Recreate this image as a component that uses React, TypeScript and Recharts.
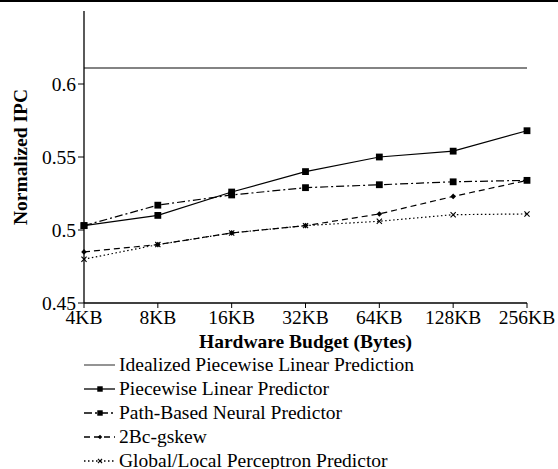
import { LineChart, Line, XAxis, YAxis, Legend } from "recharts";

const budgets = ["4KB", "8KB", "16KB", "32KB", "64KB", "128KB", "256KB"];
const idealized = [0.611, 0.611, 0.611, 0.611, 0.611, 0.611, 0.611];
const piecewiseLinear = [0.503, 0.51, 0.526, 0.54, 0.55, 0.554, 0.568];
const pathBasedNeural = [0.503, 0.517, 0.524, 0.529, 0.531, 0.533, 0.534];
const gskew = [0.485, 0.49, 0.498, 0.503, 0.511, 0.523, 0.534];
const perceptron = [0.48, 0.49, 0.498, 0.503, 0.506, 0.5105, 0.511];
const yTicks = [0.45, 0.5, 0.55, 0.6];

const FONT = "'Liberation Serif', 'Times New Roman', serif";

type MarkerKind = "none" | "square" | "diamond" | "cross";

const series: { key: string; name: string; color: string; dash?: string; marker: MarkerKind }[] = [
  { key: "idealized", name: "Idealized Piecewise Linear Prediction", color: "#5a5a5a", marker: "none" },
  { key: "piecewise", name: "Piecewise Linear Predictor", color: "#000", marker: "square" },
  { key: "pathBased", name: "Path-Based Neural Predictor", color: "#000", dash: "8 3 2 3", marker: "square" },
  { key: "gskew", name: "2Bc-gskew", color: "#000", dash: "6 4", marker: "diamond" },
  { key: "perceptron", name: "Global/Local Perceptron Predictor", color: "#000", dash: "1.5 2.5", marker: "cross" },
];

const data = budgets.map((budget, i) => ({
  budget,
  idealized: idealized[i],
  piecewise: piecewiseLinear[i],
  pathBased: pathBasedNeural[i],
  gskew: gskew[i],
  perceptron: perceptron[i],
}));

function Marker({ cx, cy, kind, size = 1 }: { cx: number; cy: number; kind: MarkerKind; size?: number }) {
  if (kind === "square") {
    const s = 3.4 * size;
    return <rect x={cx - s} y={cy - s} width={s * 2} height={s * 2} fill="#000" />;
  }
  if (kind === "diamond") {
    const s = 2.8 * size;
    return <path d={`M${cx},${cy - s}L${cx + s},${cy}L${cx},${cy + s}L${cx - s},${cy}Z`} fill="#000" />;
  }
  if (kind === "cross") {
    const s = 2.6 * size;
    return (
      <path
        d={`M${cx - s},${cy - s}L${cx + s},${cy + s}M${cx - s},${cy + s}L${cx + s},${cy - s}`}
        stroke="#000"
        strokeWidth={1.1}
      />
    );
  }
  return <g />;
}

function ChartLegend() {
  return (
    <div style={{ fontFamily: FONT, fontSize: 19.5, color: "#000" }}>
      {series.map((s) => (
        <div key={s.key} style={{ display: "flex", alignItems: "center", height: 24 }}>
          <svg width={35} height={24} style={{ display: "block" }}>
            <line x1={0} y1={12} x2={31} y2={12} stroke={s.color} strokeWidth={1.3} strokeDasharray={s.dash} />
            <Marker cx={16} cy={12} kind={s.marker} size={0.8} />
          </svg>
          <span style={{ lineHeight: "16px", whiteSpace: "nowrap" }}>{s.name}</span>
        </div>
      ))}
    </div>
  );
}

export default function App() {
  return (
    <div style={{ position: "absolute", left: 0, top: 0, width: 558, height: 469, background: "#fff" }}>
      <div style={{ position: "absolute", left: 0, top: 0, width: 558, height: 2, background: "#000" }} />
      <LineChart
        width={558}
        height={469}
        data={data}
        margin={{ top: 11, right: 31, left: 0, bottom: 116 }}
        style={{ fontFamily: FONT }}
      >
        <XAxis
          dataKey="budget"
          interval={0}
          tickSize={5}
          height={50}
          axisLine={{ stroke: "#000", strokeWidth: 1.3 }}
          tickLine={{ stroke: "#000" }}
          tick={{ fontSize: 19.5, fill: "#000", fontFamily: FONT }}
          label={{
            value: "Hardware Budget (Bytes)",
            position: "insideTop",
            offset: 31,
            style: { fontSize: 19.5, fontWeight: "bold", fill: "#000", fontFamily: FONT },
          }}
        />
        <YAxis
          type="number"
          domain={[0.45, 0.65]}
          ticks={yTicks}
          allowDataOverflow
          width={84}
          tickSize={6}
          axisLine={{ stroke: "#000", strokeWidth: 1.3 }}
          tickLine={{ stroke: "#000" }}
          tick={{ fontSize: 19.5, fill: "#000", fontFamily: FONT }}
          tickFormatter={(v: number) => String(v)}
          label={{
            value: "Normalized IPC",
            angle: -90,
            position: "insideLeft",
            offset: 20,
            style: { textAnchor: "middle", fontSize: 19.5, fontWeight: "bold", fill: "#000", fontFamily: FONT },
          }}
        />
        <Legend
          layout="vertical"
          align="center"
          verticalAlign="middle"
          content={() => <ChartLegend />}
          wrapperStyle={{ left: 84, top: 353, width: 400 }}
        />
        {series.map((s) => (
          <Line
            key={s.key}
            type="linear"
            dataKey={s.key}
            name={s.name}
            stroke={s.color}
            strokeWidth={s.key === "idealized" ? 1.4 : 1.2}
            strokeDasharray={s.dash}
            isAnimationActive={false}
            activeDot={false}
            dot={(props: any) => (
              <Marker key={`${s.key}-${props.index}`} cx={props.cx} cy={props.cy} kind={s.marker} />
            )}
          />
        ))}
      </LineChart>
    </div>
  );
}
